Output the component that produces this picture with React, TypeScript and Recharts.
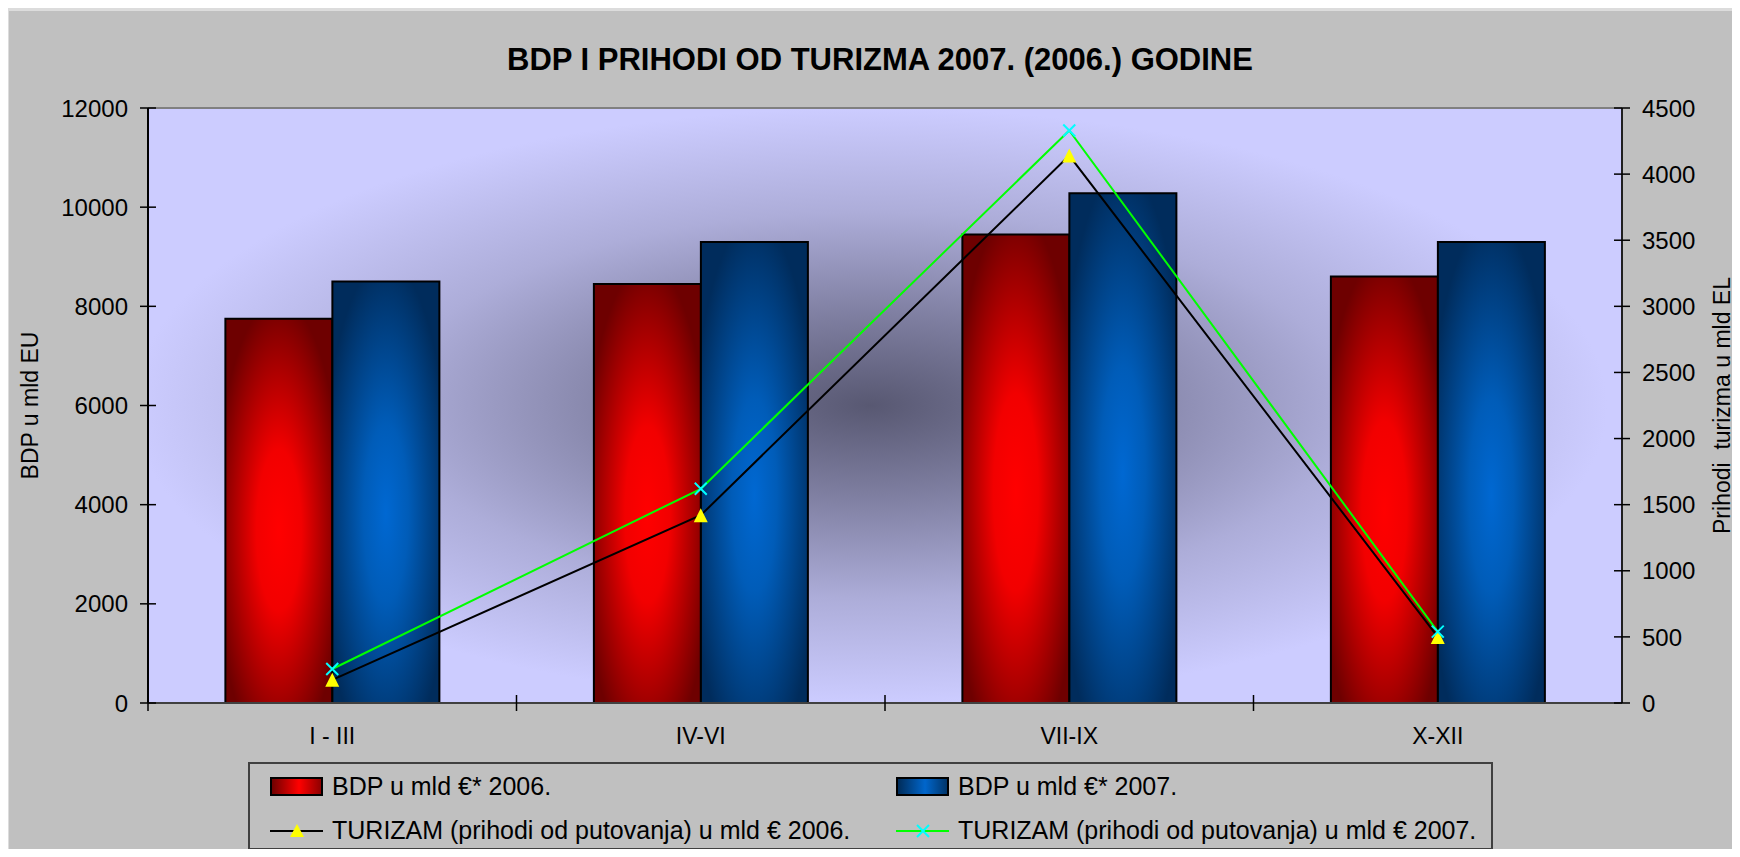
import {
  Bar,
  CartesianGrid,
  ComposedChart,
  Legend,
  Line,
  ReferenceLine,
  XAxis,
  YAxis,
} from 'recharts'

const FONT = '"Liberation Sans", Arial, sans-serif'

const quarters = ['I - III', 'IV-VI', 'VII-IX', 'X-XII']
const bdp2006 = [7750, 8450, 9450, 8600]
const bdp2007 = [8500, 9300, 10280, 9300]
const turizam2006 = [175, 1420, 4140, 500]
const turizam2007 = [257, 1620, 4330, 540]

const bdpTicks = [0, 2000, 4000, 6000, 8000, 10000, 12000]
const turizamTicks = [0, 500, 1000, 1500, 2000, 2500, 3000, 3500, 4000, 4500]

const seriesNames = {
  bdp2006: 'BDP u mld €* 2006.',
  bdp2007: 'BDP u mld €* 2007.',
  turizam2006: 'TURIZAM (prihodi od putovanja) u mld € 2006.',
  turizam2007: 'TURIZAM (prihodi od putovanja) u mld € 2007.',
}

const data = quarters.map((quarter, i) => ({
  quarter,
  bdp2006: bdp2006[i],
  bdp2007: bdp2007[i],
  turizam2006: turizam2006[i],
  turizam2007: turizam2007[i],
}))

// tick label + a short line crossing the axis (Excel style)
function LeftTick(props: any) {
  const { x, y, payload } = props
  const axisX = x + 20
  return (
    <g>
      <line x1={axisX - 8} x2={axisX + 8} y1={y} y2={y} stroke="#000" strokeWidth={1.5} />
      <text x={x} y={y} dy="0.36em" textAnchor="end" fontSize={24} fill="#000" fontFamily={FONT}>
        {payload.value}
      </text>
    </g>
  )
}

function RightTick(props: any) {
  const { x, y, payload } = props
  const axisX = x - 20
  return (
    <g>
      <line x1={axisX - 8} x2={axisX + 8} y1={y} y2={y} stroke="#000" strokeWidth={1.5} />
      <text x={x} y={y} dy="0.36em" textAnchor="start" fontSize={24} fill="#000" fontFamily={FONT}>
        {payload.value}
      </text>
    </g>
  )
}

function QuarterTick(props: any) {
  const { x, y, payload } = props
  const axisY = y - 12
  const half = payload.offset ?? 0
  return (
    <g>
      <line x1={x - half} x2={x - half} y1={axisY - 8} y2={axisY + 8} stroke="#000" strokeWidth={1.5} />
      <text x={x} y={axisY + 41} textAnchor="middle" fontSize={23} fill="#000" fontFamily={FONT}>
        {payload.value}
      </text>
    </g>
  )
}

function TriangleDot(props: any) {
  const { cx, cy, index } = props
  if (cx == null || cy == null) return <g key={index} />
  return (
    <path
      key={index}
      d={`M${cx},${cy - 7} L${cx + 7},${cy + 7} L${cx - 7},${cy + 7} Z`}
      fill="#ffff00"
    />
  )
}

function CrossDot(props: any) {
  const { cx, cy, index } = props
  if (cx == null || cy == null) return <g key={index} />
  return (
    <path
      key={index}
      d={`M${cx - 6},${cy - 6} L${cx + 6},${cy + 6} M${cx - 6},${cy + 6} L${cx + 6},${cy - 6}`}
      stroke="#00ffff"
      strokeWidth={2}
    />
  )
}

const legendSlots: Record<string, [number, number]> = {
  bdp2006: [0, 0],
  bdp2007: [1, 0],
  turizam2006: [0, 1],
  turizam2007: [1, 1],
}

function LegendIcon({ dataKey }: { dataKey: string }) {
  if (dataKey === 'bdp2006' || dataKey === 'bdp2007') {
    const red = dataKey === 'bdp2006'
    const id = red ? 'legRed' : 'legBlue'
    return (
      <svg width={53} height={30}>
        <defs>
          <linearGradient id={id} x1="0" x2="1" y1="0" y2="0">
            <stop offset="0" stopColor={red ? '#6a0000' : '#002a55'} />
            <stop offset="0.55" stopColor={red ? '#ff0000' : '#0066cc'} />
            <stop offset="1" stopColor={red ? '#8a0000' : '#003366'} />
          </linearGradient>
        </defs>
        <rect x={1} y={7} width={51} height={17} fill={`url(#${id})`} stroke="#000" strokeWidth={2} />
      </svg>
    )
  }
  const black = dataKey === 'turizam2006'
  return (
    <svg width={53} height={30}>
      <line x1={0} x2={53} y1={16} y2={16} stroke={black ? '#000' : '#00ff00'} strokeWidth={2} />
      {black ? (
        <path d="M27,9 L34,22 L20,22 Z" fill="#ffff00" />
      ) : (
        <path d="M21,10 L33,22 M21,22 L33,10" stroke="#00ffff" strokeWidth={2} />
      )}
    </svg>
  )
}

function LegendBox({ payload }: { payload?: any[] }) {
  return (
    <div
      style={{
        position: 'relative',
        width: 1245,
        height: 88,
        boxSizing: 'border-box',
        border: '2px solid #404040',
        fontFamily: FONT,
        fontSize: 25,
        color: '#000',
      }}
    >
      {(payload ?? []).map((item) => {
        const key = String(item.dataKey)
        const [col, row] = legendSlots[key] ?? [0, 0]
        return (
          <div
            key={key}
            style={{
              position: 'absolute',
              left: 20 + col * 626,
              top: 7 + row * 44,
              height: 30,
              display: 'flex',
              alignItems: 'center',
              whiteSpace: 'nowrap',
            }}
          >
            <LegendIcon dataKey={key} />
            <span style={{ marginLeft: 9 }}>{item.value}</span>
          </div>
        )
      })}
    </div>
  )
}

export default function App() {
  return (
    <div
      style={{
        position: 'relative',
        margin: -8,
        width: 1740,
        height: 857,
        background: '#dcdcdc',
        overflow: 'hidden',
        fontFamily: FONT,
      }}
    >
      <div style={{ position: 'absolute', left: 9, top: 11, right: 0, bottom: 0, background: '#c0c0c0' }} />
      <div style={{ position: 'absolute', left: 0, top: 0 }}>
        <ComposedChart
          width={1740}
          height={857}
          data={data}
          margin={{ top: 108, right: 0, left: 0, bottom: 104 }}
          barCategoryGap="21%"
          barGap={0}
        >
          <defs>
            <radialGradient id="plotBg" cx="0.49" cy="0.5" r="0.5">
              <stop offset="0" stopColor="#585872" />
              <stop offset="0.3" stopColor="#7e7ea0" />
              <stop offset="0.65" stopColor="#adadd9" />
              <stop offset="1" stopColor="#ccccff" />
            </radialGradient>
            <radialGradient id="redBar" cx="0.5" cy="0.55" r="0.6">
              <stop offset="0" stopColor="#ff0000" />
              <stop offset="0.35" stopColor="#f20000" />
              <stop offset="1" stopColor="#6e0000" />
            </radialGradient>
            <radialGradient id="blueBar" cx="0.5" cy="0.55" r="0.6">
              <stop offset="0" stopColor="#0068d2" />
              <stop offset="0.35" stopColor="#005cb8" />
              <stop offset="1" stopColor="#002c5c" />
            </radialGradient>
          </defs>
          <CartesianGrid horizontal={false} vertical={false} fill="url(#plotBg)" stroke="none" yAxisId="bdp" />
          <XAxis
            dataKey="quarter"
            height={50}
            interval={0}
            axisLine={{ stroke: '#404040', strokeWidth: 2 }}
            tickLine={false}
            tickSize={8}
            tickMargin={4}
            tick={<QuarterTick />}
          />
          <YAxis
            yAxisId="bdp"
            width={148}
            domain={[0, 12000]}
            ticks={bdpTicks}
            interval={0}
            axisLine={{ stroke: '#000', strokeWidth: 2 }}
            tickLine={false}
            tickSize={8}
            tickMargin={12}
            tick={<LeftTick />}
            label={(p: any) => {
              const vb = p.viewBox ?? { x: 0, y: 108, width: 148, height: 595 }
              const cy = vb.y + vb.height / 2
              return (
                <text
                  x={38}
                  y={cy}
                  transform={`rotate(-90, 38, ${cy})`}
                  textAnchor="middle"
                  fontSize={23}
                  fill="#000"
                  fontFamily={FONT}
                >
                  BDP u mld EU
                </text>
              )
            }}
          />
          <YAxis
            yAxisId="tur"
            orientation="right"
            width={118}
            domain={[0, 4500]}
            ticks={turizamTicks}
            interval={0}
            axisLine={{ stroke: '#202020', strokeWidth: 2 }}
            tickLine={false}
            tickSize={8}
            tickMargin={12}
            tick={<RightTick />}
            label={(p: any) => {
              const vb = p.viewBox ?? { x: 1622, y: 108, width: 118, height: 595 }
              const cy = vb.y + vb.height / 2
              const lx = vb.x + vb.width - 10
              return (
                <text
                  x={lx}
                  y={cy}
                  transform={`rotate(-90, ${lx}, ${cy})`}
                  textAnchor="middle"
                  fontSize={23}
                  fill="#000"
                  fontFamily={FONT}
                  style={{ whiteSpace: 'pre' }}
                >
                  {'Prihodi  turizma u mld EL'}
                </text>
              )
            }}
          />
          <ReferenceLine yAxisId="bdp" y={12000} stroke="#808080" strokeWidth={2} />
          <Legend
            layout="horizontal"
            verticalAlign="middle"
            align="center"
            wrapperStyle={{ left: 248, top: 762, width: 1245, height: 88 }}
            content={(props: any) => <LegendBox payload={props.payload} />}
          />
          <Bar
            yAxisId="bdp"
            dataKey="bdp2006"
            name={seriesNames.bdp2006}
            fill="url(#redBar)"
            stroke="#000"
            strokeWidth={2}
            isAnimationActive={false}
          />
          <Bar
            yAxisId="bdp"
            dataKey="bdp2007"
            name={seriesNames.bdp2007}
            fill="url(#blueBar)"
            stroke="#000"
            strokeWidth={2}
            isAnimationActive={false}
          />
          <Line
            yAxisId="tur"
            type="linear"
            dataKey="turizam2006"
            name={seriesNames.turizam2006}
            stroke="#000"
            strokeWidth={2}
            dot={TriangleDot}
            activeDot={false}
            isAnimationActive={false}
          />
          <Line
            yAxisId="tur"
            type="linear"
            dataKey="turizam2007"
            name={seriesNames.turizam2007}
            stroke="#00ff00"
            strokeWidth={2}
            dot={CrossDot}
            activeDot={false}
            isAnimationActive={false}
          />
        </ComposedChart>
      </div>
      <svg
        width={1740}
        height={857}
        style={{ position: 'absolute', left: 0, top: 0, pointerEvents: 'none' }}
      >
        <text x={880} y={70} textAnchor="middle" fontSize={31} fontWeight="bold" fill="#000" fontFamily={FONT}>
          BDP I PRIHODI OD TURIZMA 2007. (2006.) GODINE
        </text>
      </svg>
    </div>
  )
}
